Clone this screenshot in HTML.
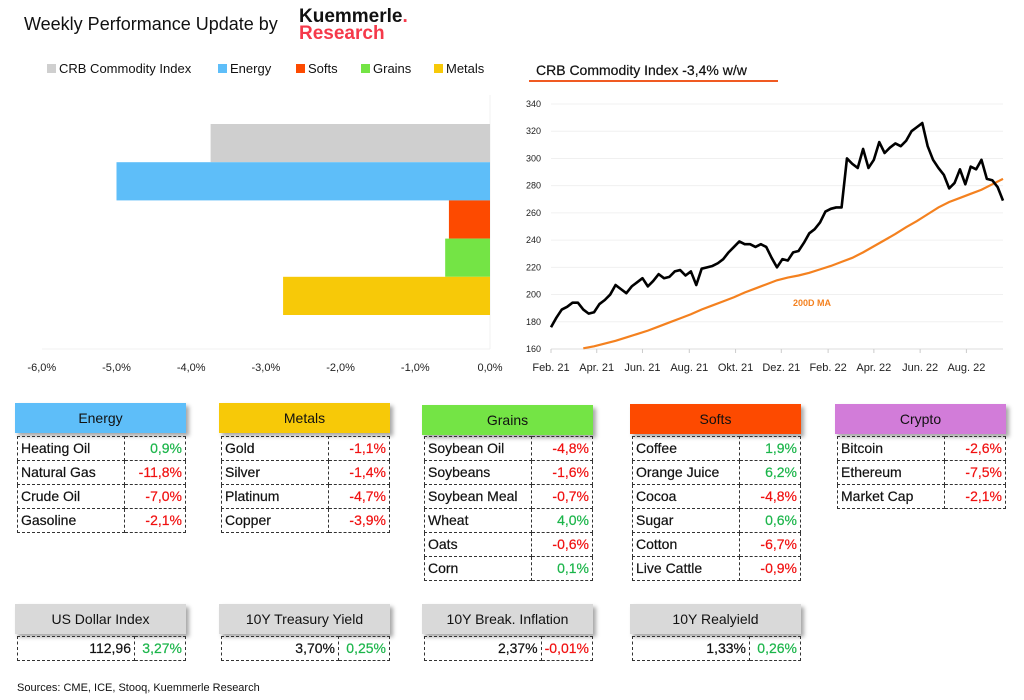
<!DOCTYPE html>
<html><head><meta charset="utf-8">
<style>
body{margin:0;width:1024px;height:700px;background:#fff;font-family:"Liberation Sans",sans-serif;position:relative;overflow:hidden;color:#111}
.abs{position:absolute}
.hdr{position:absolute;height:30px;line-height:30px;text-align:center;font-size:14px;box-shadow:3px 3px 4px rgba(0,0,0,0.35)}
table.t{position:absolute;border-collapse:collapse;font-size:14px}
table.t td{border:1px dashed #333;height:23px;padding:0 3px;line-height:23px;-webkit-text-stroke:0.2px currentColor}
table.t td.v{text-align:right}
.g{color:#1bb54a}.r{color:#f01010}
.leg{position:absolute;top:61px;font-size:13px}
.leg i{display:inline-block;width:9px;height:9px;margin-right:3px}
</style></head><body>
<div class="abs" style="left:24px;top:14px;font-size:18px">Weekly Performance Update by</div>
<div class="abs" style="left:299px;top:8px;font-weight:bold;font-size:19px;line-height:17px">Kuemmerle<span style="color:#f5394a">.</span><br><span style="color:#f5394a">Research</span></div>

<div class="leg" style="left:47px"><i style="background:#cfcfcf"></i>CRB Commodity Index</div>
<div class="leg" style="left:218px"><i style="background:#5ebef9"></i>Energy</div>
<div class="leg" style="left:296px"><i style="background:#fd4a00"></i>Softs</div>
<div class="leg" style="left:361px"><i style="background:#74e445"></i>Grains</div>
<div class="leg" style="left:434px"><i style="background:#f7c908"></i>Metals</div>

<svg class="abs" style="left:0;top:0" width="1024" height="400" id="svg"></svg>

<div class="abs" style="left:536px;top:62px;font-size:14px;-webkit-text-stroke:0.2px #111">CRB Commodity Index -3,4% w/w</div>
<div class="abs" style="left:529px;top:80px;width:249px;height:2px;background:#f05a22"></div>

<div id="tables"></div>
<div class="abs" style="left:17px;top:682px;font-size:11px">Sources: CME, ICE, Stooq, Kuemmerle Research</div>

<script>
const barCats=["CRB Commodity Index","Energy","Softs","Grains","Metals"];
const barVals=[-3.74,-5.0,-0.55,-0.6,-2.77];
const barColors=["#cfcfcf","#5ebef9","#fd4a00","#74e445","#f7c908"];
const barTicks=[-6,-5,-4,-3,-2,-1,0];
const crbVals=[176,183,189,191,194,194,189,186,187,193,196,200,207,204,201,206,209,212,206,210,215,212,213,217,218,214,217,207,219,220,221,223,226,231,235,239,237,237,235,237,235,227,220,226,225,231,232,238,245,248,253,261,263,264,264,300,296,293,307,293,299,312,304,308,311,309,313,320,323,326,309,299,293,288,278,282,292,281,294,292,299,285,284,279,269];
const maStart=6, maStep=2;
const maVals=[160.5,162,164,166,168.5,171,173.5,176.5,179.5,182.5,185.5,189,192,195,198,201.5,204.5,207.5,210.5,212.5,214,216,218.5,221,224,227,231,235.5,240,244.5,249.5,254,259,264,268,271,274,277,281,285];
const yTicks=[160,180,200,220,240,260,280,300,320,340];
const xLabels=["Feb. 21","Apr. 21","Jun. 21","Aug. 21","Okt. 21","Dez. 21","Feb. 22","Apr. 22","Jun. 22","Aug. 22"];
const xLabelWeeks=[0,8.5,17,25.7,34.3,42.8,51.5,60,68.6,77.2];

const svg=document.getElementById('svg');const NS='http://www.w3.org/2000/svg';
function mk(t,a,p){const e=document.createElementNS(NS,t);for(const k in a)e.setAttribute(k,a[k]);(p||svg).appendChild(e);return e;}
const bx=v=>490+v*74.7; const bandTop=124,bandH=38.2;
mk('line',{x1:490,y1:95,x2:490,y2:349,stroke:'#f0f0f0'});
mk('line',{x1:42,y1:349,x2:490,y2:349,stroke:'#f0f0f0'});
barVals.forEach((v,i)=>{const r=mk('rect',{x:bx(Math.min(v,0)),y:bandTop+i*bandH,width:Math.abs(v)*74.7,height:bandH,fill:barColors[i]});

});
barTicks.forEach(t=>{const e=mk('text',{x:bx(t),y:371,'text-anchor':'middle','font-size':11,fill:'#222'});e.textContent=t.toFixed(1).replace('.',',')+'%';

});
const lx=i=>551+i*(452/84); const ly=v=>349-(v-160)*(245/180);
yTicks.forEach(t=>{mk('line',{x1:551,x2:1003,y1:ly(t),y2:ly(t),stroke:'#f0f0f0'});const e=mk('text',{x:541,y:ly(t)+3,'text-anchor':'end','font-size':9,fill:'#222'});e.textContent=t;

});
mk('line',{x1:551,x2:1003,y1:349,y2:349,stroke:'#ddd'});
xLabelWeeks.forEach((w,i)=>{mk('line',{x1:lx(w),x2:lx(w),y1:349,y2:353,stroke:'#ccc'});const e=mk('text',{x:lx(w),y:371,'text-anchor':'middle','font-size':11,fill:'#222'});e.textContent=xLabels[i];

});
const ma=mk('polyline',{points:maVals.map((v,i)=>lx(maStart+i*maStep)+','+ly(v)).join(' '),fill:'none',stroke:'#f4811f','stroke-width':2.2});


const crb=mk('polyline',{points:crbVals.map((v,i)=>lx(i)+','+ly(v)).join(' '),fill:'none',stroke:'#000','stroke-width':2.6,'stroke-linejoin':'round'});


const lab=mk('text',{x:793,y:306,'font-size':9,'font-weight':'bold',fill:'#f4811f'});lab.textContent='200D MA';



const groups=[
 {n:"Energy",x:15,c:"#5ebef9",y:403,rows:[["Heating Oil","0,9%"],["Natural Gas","-11,8%"],["Crude Oil","-7,0%"],["Gasoline","-2,1%"]]},
 {n:"Metals",x:219,c:"#f7c908",y:403,rows:[["Gold","-1,1%"],["Silver","-1,4%"],["Platinum","-4,7%"],["Copper","-3,9%"]]},
 {n:"Grains",x:422,c:"#74e445",y:405,rows:[["Soybean Oil","-4,8%"],["Soybeans","-1,6%"],["Soybean Meal","-0,7%"],["Wheat","4,0%"],["Oats","-0,6%"],["Corn","0,1%"]]},
 {n:"Softs",x:630,c:"#fd4a00",y:404,rows:[["Coffee","1,9%"],["Orange Juice","6,2%"],["Cocoa","-4,8%"],["Sugar","0,6%"],["Cotton","-6,7%"],["Live Cattle","-0,9%"]]},
 {n:"Crypto",x:835,c:"#d27cd9",y:404,rows:[["Bitcoin","-2,6%"],["Ethereum","-7,5%"],["Market Cap","-2,1%"]]}];
const macro=[{n:"US Dollar Index",x:15,v:"112,96",c:"3,27%"},{n:"10Y Treasury Yield",x:219,v:"3,70%",c:"0,25%"},{n:"10Y Break. Inflation",x:422,v:"2,37%",c:"-0,01%"},{n:"10Y Realyield",x:630,v:"1,33%",c:"0,26%"}];
let h='';
groups.forEach(g=>{const slug=g.n.toLowerCase();
 h+=`<div class="hdr" style="left:${g.x}px;top:${g.y}px;width:171px;background:${g.c}">${g.n}</div>`;
 h+=`<table class="t" style="left:${g.x+2}px;top:436px;width:169px">`;
 g.rows.forEach(r=>{h+=`<tr><td style="width:100px">${r[0]}</td><td class="v ${r[1][0]=='-'?'r':'g'}">${r[1]}</td></tr>`;});
 h+='</table>';});
macro.forEach(m=>{const slug=m.n.toLowerCase().replace(/[^a-z0-9]+/g,'-');
 h+=`<div class="hdr" style="left:${m.x}px;top:604px;width:171px;background:#d9d9d9">${m.n}</div>`;
 h+=`<table class="t" style="left:${m.x+2}px;top:636px;width:169px"><tr><td class="v" style="width:110px">${m.v}</td><td class="v ${m.c[0]=='-'?'r':'g'}">${m.c}</td></tr></table>`;});
document.getElementById('tables').innerHTML=h;
</script>
</body></html>
